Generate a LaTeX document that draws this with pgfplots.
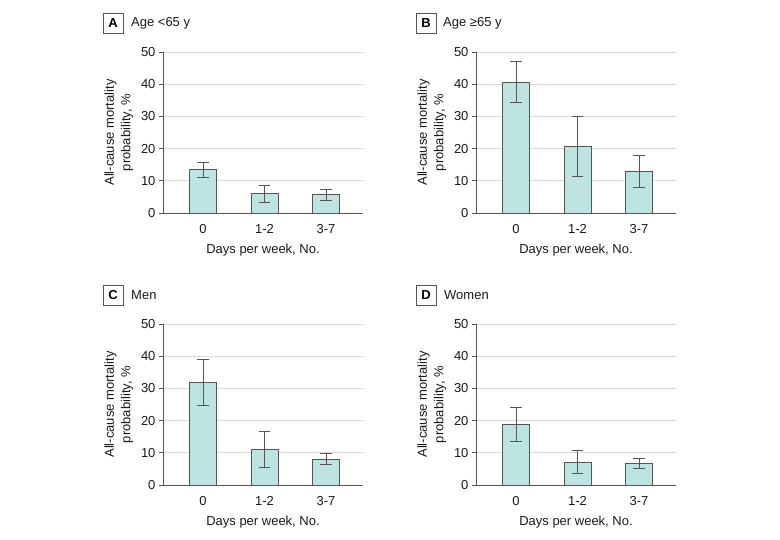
\documentclass[border=0pt]{standalone}
\usepackage{pgfplots}
\pgfplotsset{compat=1.18}
\usepackage{pgfplotstable}
\usepackage{fontspec}
\setmainfont{Liberation Sans}

\definecolor{barfill}{HTML}{BDE4E1}
\definecolor{baredge}{HTML}{555555}
\definecolor{gridc}{HTML}{DADADA}

% value, upper CI, lower CI
\pgfplotstableread{
x y ep em
0 13.4 2.3 2.4
1 6.0 2.6 2.8
2 5.7 1.6 1.9
}\ageyoung
\pgfplotstableread{
x y ep em
0 40.6 6.4 6.2
1 20.7 9.3 9.5
2 12.9 5.0 5.0
}\ageold
\pgfplotstableread{
x y ep em
0 31.8 7.2 7.1
1 11.1 5.6 5.5
2 8.0 1.8 1.7
}\men
\pgfplotstableread{
x y ep em
0 18.9 5.3 5.5
1 7.1 3.7 3.4
2 6.6 1.7 1.6
}\women

\pgfplotsset{
  panel/.style={
    scale only axis, width=200pt, height=161pt,
    anchor=south west,
    xmin=-0.65, xmax=2.6, ymin=0, ymax=50,
    ytick={0,10,...,50},
    xtick={0,1,2}, xticklabels={0,1-2,3-7},
    axis x line*=bottom, axis y line*=left,
    axis line style={baredge, line width=0.9pt, -},
    ymajorgrids, grid style={gridc, line width=0.8pt},
    tick style={baredge, line width=0.9pt},
    major tick length=4pt,
    xtick style={draw=none},
    tick align=outside,
    /pgf/number format/assume math mode=true,
    tick label style={font=\fontsize{13}{15}\selectfont, text=black!90},
    xticklabel style={yshift=-3.5pt},
    label style={font=\fontsize{13}{16.5}\selectfont, text=black!90},
    xlabel={Days per week, No.},
    xlabel style={yshift=-4pt},
    ylabel={All-cause mortality\\probability, \%},
    ylabel style={align=center, yshift=1pt},
  },
  bars/.style={
    ybar, bar width=27pt, fill=barfill, draw=baredge, line width=0.9pt,
    error bars/.cd, y dir=both, y explicit,
    error bar style={baredge, line width=0.9pt},
    error mark options={rotate=90, baredge, mark size=5.8pt, line width=0.9pt},
  },
}
\tikzset{
  tag/.style={draw=baredge, line width=0.9pt, minimum size=20pt, inner sep=0pt,
    font=\bfseries\fontsize{13}{15}\selectfont},
  ttl/.style={anchor=west, inner sep=0pt, font=\fontsize{13}{15}\selectfont, text=black!90},
}

\begin{document}
\begin{tikzpicture}[x=1pt, y=1pt]
\path[use as bounding box] (0,0) rectangle (780,539);

\begin{axis}[panel, at={(163pt,326pt)}]
\addplot[bars] table[x=x, y=y, y error plus=ep, y error minus=em] {\ageyoung};
\end{axis}
\begin{axis}[panel, at={(476pt,326pt)}]
\addplot[bars] table[x=x, y=y, y error plus=ep, y error minus=em] {\ageold};
\end{axis}
\begin{axis}[panel, at={(163pt,54pt)}]
\addplot[bars] table[x=x, y=y, y error plus=ep, y error minus=em] {\men};
\end{axis}
\begin{axis}[panel, at={(476pt,54pt)}]
\addplot[bars] table[x=x, y=y, y error plus=ep, y error minus=em] {\women};
\end{axis}

\node[tag] at (113,516) {A};
\node[ttl] at (131,516) {Age <65 y};
\node[tag] at (426,516) {B};
\node[ttl] at (443,516) {Age \char"2265 65 y};
\node[tag] at (113,244) {C};
\node[ttl] at (131,244) {Men};
\node[tag] at (426,244) {D};
\node[ttl] at (444,244) {Women};
\end{tikzpicture}
\end{document}
